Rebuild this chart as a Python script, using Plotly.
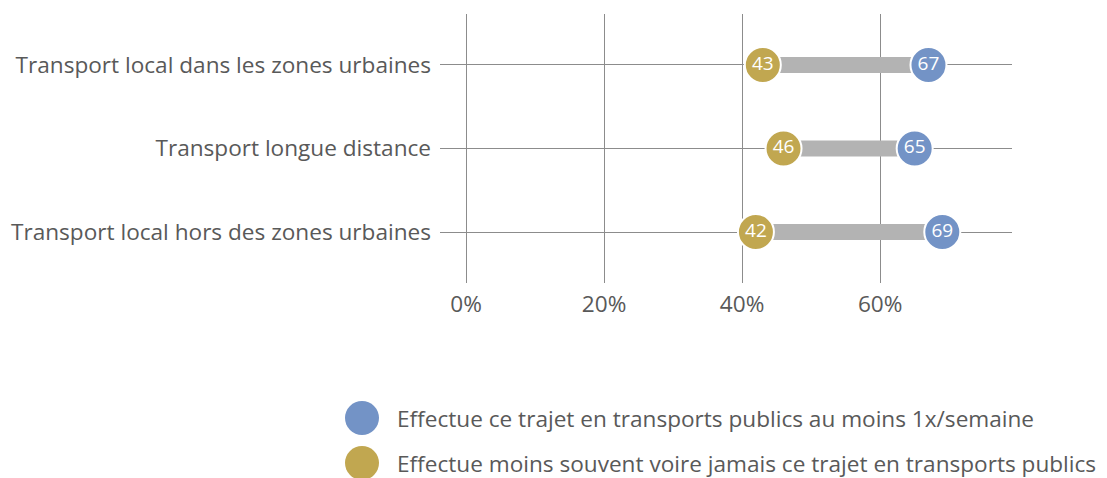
import plotly.graph_objects as go

categories = ["Transport local dans les zones urbaines", "Transport longue distance",
              "Transport local hors des zones urbaines"]
weekly = [67, 65, 69]
rarely = [43, 46, 42]
tick_vals = [0, 20, 40, 60]
tick_text = ["0%", "20%", "40%", "60%"]
legend_names = ["Effectue ce trajet en transports publics au moins 1x/semaine",
                "Effectue moins souvent voire jamais ce trajet en transports publics"]

BLUE = "#7393C6"
GOLD = "#C1A750"
FONT = "Open Sans"
TXT = "#595959"
FS = 22.6

fig = go.Figure()
# connectors
for c, a, b in zip(categories, rarely, weekly):
    fig.add_trace(go.Scatter(x=[a, b], y=[c, c], mode="lines",
                             line=dict(color="#B3B3B3", width=16), showlegend=False,
                             hoverinfo="skip"))
fig.add_trace(go.Scatter(x=rarely, y=categories, mode="markers+text", text=[str(v) for v in rarely],
                         textposition="middle center", textfont=dict(color="white", size=19, family=FONT),
                         marker=dict(size=36, color=GOLD, line=dict(color="white", width=2)),
                         name=legend_names[1], showlegend=False))
fig.add_trace(go.Scatter(x=weekly, y=categories, mode="markers+text", text=[str(v) for v in weekly],
                         textposition="middle center", textfont=dict(color="white", size=19, family=FONT),
                         marker=dict(size=36, color=BLUE, line=dict(color="white", width=2)),
                         name=legend_names[0], showlegend=False))

OFF = 8  # page body margin
W, H = 1107 - OFF, 478 - OFF
L, R, T, B = 440 - OFF, 95, 14 - OFF, 195
pw, ph = W - L - R, H - T - B

def px(x):
    return (x - OFF - L) / pw

def py(y):
    return (H - B - (y - OFF)) / ph

for i, (name, col) in enumerate(zip(legend_names, [BLUE, GOLD])):
    yy = 418 + i * 45
    fig.add_shape(type="circle", xref="paper", yref="paper", xsizemode="pixel", ysizemode="pixel",
                  xanchor=px(362), yanchor=py(yy), x0=-17, x1=17, y0=-17, y1=17,
                  fillcolor=col, line=dict(width=0))
    fig.add_annotation(x=px(395), y=py(yy), xref="paper", yref="paper", text=name,
                       showarrow=False, xanchor="left", yanchor="middle",
                       font=dict(size=FS, color=TXT, family=FONT))

fig.update_xaxes(range=[-3.77, 79.1], tickvals=tick_vals, ticktext=tick_text,
                 showgrid=True, gridcolor="#8C8C8C", gridwidth=1, zeroline=False,
                 tickfont=dict(size=FS, color=TXT, family=FONT), ticks="", ticklabelstandoff=5,
                 fixedrange=True, automargin=False)
fig.update_yaxes(categoryorder="array", categoryarray=categories[::-1], range=[-0.61, 2.61],
                 showgrid=True, gridcolor="#8C8C8C", gridwidth=1, zeroline=False,
                 tickfont=dict(size=FS, color=TXT, family=FONT), ticks="", ticklabelstandoff=8,
                 automargin=False)

fig.update_layout(width=W, height=H, margin=dict(l=L, r=R, t=T, b=B),
                  plot_bgcolor="white", paper_bgcolor="white", showlegend=False,
                  font=dict(family=FONT, color=TXT))
fig.write_html("out.html")
